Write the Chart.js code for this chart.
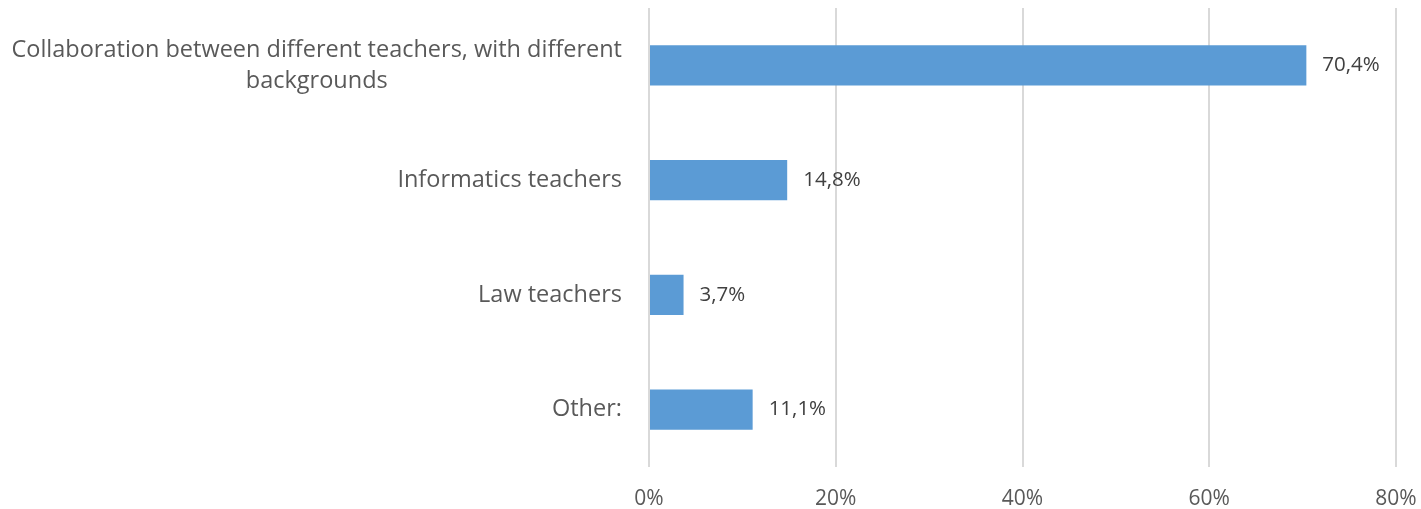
<!DOCTYPE html>
<html>
<head>
<meta charset="utf-8">
<script src="https://cdn.jsdelivr.net/npm/chart.js@4/dist/chart.umd.min.js"></script>
<style>
  html, body { margin: 0; padding: 0; background: #fff; }
  #wrap { width: 1421px; height: 509px; }
</style>
</head>
<body>
<div id="wrap"><canvas id="chart"></canvas></div>
<script>
const categories = [
  ["Collaboration between different teachers, with different", "backgrounds"],
  ["Informatics teachers"],
  ["Law teachers"],
  ["Other:"]
];
const values = [70.4, 14.8, 3.7, 11.1];
const xTicks = [0, 20, 40, 60, 80];

const labelFont = "23.5px 'Open Sans'";
const valueFont = "20.5px 'Open Sans'";

// draws the category labels (centred lines, right aligned block) and the value labels
const labelsPlugin = {
  id: "labels",
  afterDraw(chart) {
    const ctx = chart.ctx;
    const yScale = chart.scales.y;
    const area = chart.chartArea;
    ctx.save();
    ctx.font = labelFont;
    ctx.fillStyle = "#595959";
    ctx.textBaseline = "middle";
    ctx.textAlign = "center";
    categories.forEach(function (lines, i) {
      const y = yScale.getPixelForTick(i);
      let w = 0;
      lines.forEach(function (l) { w = Math.max(w, ctx.measureText(l).width); });
      const cx = area.left - 27 - w / 2;
      const lh = 31;
      lines.forEach(function (l, j) {
        ctx.fillText(l, cx, y + (j - (lines.length - 1) / 2) * lh);
      });
    });
    ctx.font = valueFont;
    ctx.fillStyle = "#404040";
    ctx.textAlign = "left";
    chart.getDatasetMeta(0).data.forEach(function (bar, i) {
      ctx.fillText(values[i].toFixed(1).replace(".", ",") + "%", bar.x + 16, bar.y);
    });
    ctx.restore();
  }
};

new Chart(document.getElementById("chart"), {
  type: "bar",
  data: {
    labels: categories.map(function (c) { return c.join(" "); }),
    datasets: [{
      data: values,
      backgroundColor: "#5B9BD5",
      borderWidth: 0,
      barPercentage: 0.7,
      categoryPercentage: 0.5
    }]
  },
  options: {
    indexAxis: "y",
    responsive: true,
    maintainAspectRatio: false,
    animation: false,
    layout: { padding: { left: 0, right: 0, top: 8, bottom: 0 } },
    plugins: {
      legend: { display: false },
      tooltip: { enabled: false }
    },
    scales: {
      x: {
        min: 0,
        max: 80,
        afterBuildTicks(scale) {
          scale.ticks = xTicks.map(function (v) { return { value: v }; });
        },
        afterFit(scale) {
          scale.height = 42;
          scale.paddingLeft = 0;
          scale.paddingRight = 25;
        },
        grid: { color: "#D9D9D9", lineWidth: 2, drawTicks: false },
        border: { display: false },
        ticks: {
          color: "#595959",
          font: { family: "'Open Sans'", size: 21 },
          padding: 19,
          callback: function (v) { return v + "%"; }
        }
      },
      y: {
        afterFit(scale) { scale.width = 649; },
        grid: { display: false },
        border: { display: false },
        ticks: { display: false }
      }
    }
  },
  plugins: [labelsPlugin]
});
</script>
</body>
</html>
